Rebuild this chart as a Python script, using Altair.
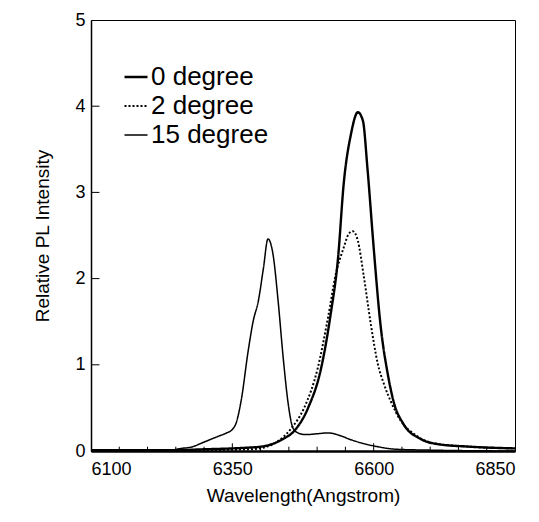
import altair as alt
import pandas as pd

# ---- data ----
series_names = ["0 degree", "2 degree", "15 degree"]

wl_0 = [6100, 6200, 6250, 6300, 6350, 6380, 6400, 6420, 6440, 6459, 6484, 6507, 6524, 6537,
        6547, 6560, 6572, 6581, 6589, 6600, 6612, 6625, 6635, 6653, 6683, 6713, 6770, 6850]
int_0 = [0.01, 0.01, 0.01, 0.02, 0.03, 0.04, 0.05, 0.08, 0.14, 0.23, 0.5, 0.96, 1.59, 2.24,
         3.1, 3.68, 3.93, 3.83, 3.28, 2.36, 1.47, 0.89, 0.58, 0.31, 0.14, 0.08, 0.05, 0.03]

wl_2 = [6100, 6200, 6300, 6383, 6406, 6436, 6454, 6477, 6501, 6519, 6533, 6547, 6556, 6563,
        6572, 6582, 6595, 6607, 6618, 6630, 6648, 6671, 6706, 6770, 6850]
int_2 = [0.0, 0.0, 0.01, 0.02, 0.04, 0.14, 0.26, 0.5, 0.96, 1.54, 2.05, 2.36, 2.52, 2.55,
         2.44, 2.05, 1.47, 1.02, 0.78, 0.58, 0.35, 0.2, 0.09, 0.05, 0.03]

wl_15 = [6100, 6200, 6240, 6260, 6280, 6295, 6310, 6325, 6340, 6350, 6357, 6366, 6378, 6387,
         6396, 6405, 6413, 6422, 6431, 6440, 6449, 6457, 6466, 6480, 6500, 6519, 6540, 6560,
         6580, 6607, 6640, 6700, 6850]
int_15 = [0.0, 0.0, 0.01, 0.03, 0.05, 0.09, 0.13, 0.17, 0.21, 0.25, 0.33, 0.6, 1.16, 1.51,
          1.74, 2.12, 2.46, 2.28, 1.74, 1.08, 0.54, 0.27, 0.21, 0.19, 0.2, 0.21, 0.18, 0.13,
          0.09, 0.05, 0.02, 0.01, 0.0]

x_labels = [6100, 6350, 6600, 6850]
x_minor = [6150, 6200, 6250, 6300, 6400, 6450, 6500, 6550, 6650, 6700, 6750, 6800]
x_major_inner = [6350, 6600]
y_labels = [0, 1, 2, 3, 4, 5]
y_inner = [1, 2, 3, 4]

rows = []
for name, xs, ys in [("0 degree", wl_0, int_0), ("2 degree", wl_2, int_2), ("15 degree", wl_15, int_15)]:
    for a, b in zip(xs, ys):
        rows.append({"wl": a, "val": b, "deg": name})
df = pd.DataFrame(rows)

ticks_x = pd.DataFrame({"v": x_minor + x_major_inner,
                        "len": [0.05] * len(x_minor) + [0.09] * len(x_major_inner)})
ticks_y = pd.DataFrame({"v": y_inner})

FONT = "Liberation Sans"

xscale = alt.Scale(domain=[6100, 6850], nice=False, zero=False)
yscale = alt.Scale(domain=[0, 5], nice=False)

lines = alt.Chart(df).mark_line(interpolate="monotone", color="black").encode(
    x=alt.X("wl:Q", scale=xscale,
            axis=alt.Axis(values=x_labels, format="d", title="Wavelength(Angstrom)", ticks=False,
                          labelPadding=9, titlePadding=8, domainWidth=2.5)),
    y=alt.Y("val:Q", scale=yscale,
            axis=alt.Axis(values=y_labels, format="d", title="Relative PL Intensity", ticks=False,
                          labelPadding=6, titlePadding=22, domainWidth=1.5)),
    strokeWidth=alt.StrokeWidth("deg:N",
                                scale=alt.Scale(domain=series_names, range=[2.4, 1.5, 1.1]),
                                legend=alt.Legend(title=None)),
    strokeDash=alt.StrokeDash("deg:N",
                              scale=alt.Scale(domain=series_names, range=[[1, 0], [2, 2], [1, 0]]),
                              legend=alt.Legend(title=None)),
    detail="deg:N",
)

# inward tick marks (drawn through the scales)
x_ticks = alt.Chart(ticks_x).transform_calculate(y0="0").mark_rule(color="black", strokeWidth=1).encode(
    x=alt.X("v:Q", scale=xscale),
    y=alt.Y("y0:Q", scale=yscale),
    y2="len:Q",
)

y_ticks = alt.Chart(ticks_y).transform_calculate(x0="6100", x1="6115").mark_rule(color="black", strokeWidth=1).encode(
    y=alt.Y("v:Q", scale=yscale),
    x=alt.X("x0:Q", scale=xscale),
    x2="x1:Q",
)

chart = alt.layer(lines, x_ticks, y_ticks).properties(
    width=424, height=431,
    padding={"left": 25, "top": 3, "right": 5, "bottom": 5},
).configure_view(
    stroke="black", strokeWidth=1
).configure_axis(
    labelFont=FONT, titleFont=FONT, labelFontSize=18, titleFontSize=19,
    labelColor="black", titleColor="black", domainColor="black",
    grid=False, labelFontWeight="normal", titleFontWeight="normal",
).configure_legend(
    orient="none", legendX=32, legendY=44, padding=0,
    labelFont=FONT, labelFontSize=26, labelColor="black",
    symbolType="stroke", symbolSize=529, symbolStrokeColor="black",
    rowPadding=3, labelOffset=2,
)

chart.save("out.html", embed_options={"renderer": "svg", "actions": False})
